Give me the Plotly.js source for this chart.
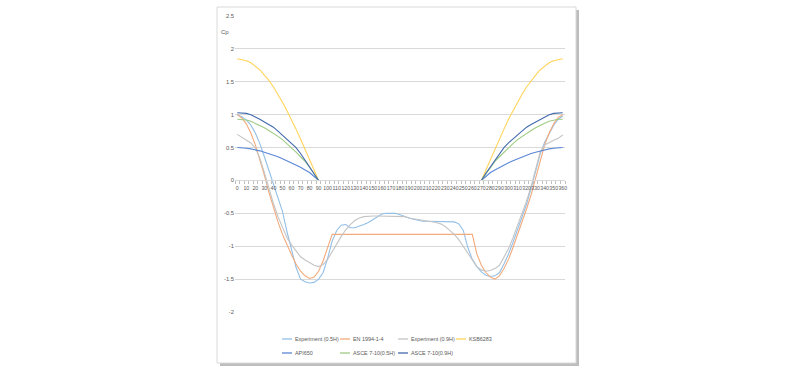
<!DOCTYPE html>
<html>
<head>
<meta charset="utf-8">
<script src="https://cdn.plot.ly/plotly-3.0.1.min.js"></script>
<style>
  html, body { margin: 0; padding: 0; background: #ffffff; }
  #chart { width: 800px; height: 374px; }
</style>
</head>
<body>
<div id="chart"></div>
<script>
// ---- Data (angle in degrees, Cp values) ----
const angles = [0,5,10,15,20,25,30,35,40,45,50,55,60,65,70,75,80,85,90,
  95,100,105,110,115,120,125,130,135,140,145,150,155,160,165,170,175,180,
  185,190,195,200,205,210,215,220,225,230,235,240,245,250,255,260,265,270,
  275,280,285,290,295,300,305,310,315,320,325,330,335,340,345,350,355,360];

const xTickVals = [0,10,20,30,40,50,60,70,80,90,100,110,120,130,140,150,160,170,180,
  190,200,210,220,230,240,250,260,270,280,290,300,310,320,330,340,350,360];
const xTickText = ["0","10","20","30","40","50","60","70","80","90","100","110","120","130",
  "140","150","160","170","180","190","200","210","220","230","240","250","260","270",
  "280","290","300","310","320","330","340","350","360"];

const yTickVals = [-2,-1.5,-1,-0.5,0,0.5,1,1.5,2,2.5];
const yTickText = ["-2","-1.5","-1","-0.5","0","0.5","1","1.5","2","2.5"];

const expHalf = [1.00,0.97,0.92,0.84,0.72,0.56,0.36,0.16,-0.04,-0.24,-0.47,-0.78,-1.05,-1.32,-1.50,-1.54,-1.56,-1.55,-1.50,
  -1.40,-1.18,-0.92,-0.76,-0.68,-0.67,-0.72,-0.72,-0.70,-0.67,-0.64,-0.60,-0.55,-0.51,-0.50,-0.50,-0.50,-0.52,
  -0.55,-0.57,-0.59,-0.61,-0.62,-0.62,-0.62,-0.63,-0.63,-0.63,-0.63,-0.63,-0.66,-0.76,-1.02,-1.20,-1.31,-1.39,
  -1.44,-1.46,-1.45,-1.40,-1.27,-1.12,-0.94,-0.75,-0.56,-0.36,-0.12,0.13,0.40,0.58,0.72,0.84,0.93,0.98];

const en1994 = [1.00,0.95,0.86,0.72,0.54,0.32,0.08,-0.18,-0.42,-0.63,-0.82,-0.98,-1.13,-1.27,-1.38,-1.45,-1.49,-1.47,-1.38,
  -1.22,-1.02,-0.82,-0.82,-0.82,-0.82,-0.82,-0.82,-0.82,-0.82,-0.82,-0.82,-0.82,-0.82,-0.82,-0.82,-0.82,-0.82,
  -0.82,-0.82,-0.82,-0.82,-0.82,-0.82,-0.82,-0.82,-0.82,-0.82,-0.82,-0.82,-0.82,-0.82,-0.82,-0.82,-1.12,-1.29,
  -1.40,-1.47,-1.50,-1.45,-1.34,-1.20,-1.02,-0.83,-0.63,-0.43,-0.22,0.03,0.30,0.54,0.72,0.86,0.96,1.00];

const expNine = [0.70,0.66,0.62,0.57,0.49,0.34,0.12,-0.12,-0.35,-0.55,-0.72,-0.87,-0.98,-1.08,-1.16,-1.21,-1.25,-1.29,-1.31,
  -1.28,-1.20,-1.08,-0.96,-0.85,-0.75,-0.67,-0.61,-0.57,-0.55,-0.54,-0.54,-0.54,-0.54,-0.54,-0.54,-0.54,-0.54,
  -0.55,-0.57,-0.58,-0.60,-0.61,-0.62,-0.63,-0.64,-0.66,-0.70,-0.76,-0.82,-0.90,-1.00,-1.10,-1.22,-1.31,-1.36,
  -1.38,-1.37,-1.34,-1.29,-1.16,-1.04,-0.87,-0.69,-0.51,-0.31,-0.09,0.16,0.43,0.54,0.58,0.61,0.64,0.69];

const ksb6283 = [1.85,1.84,1.82,1.79,1.74,1.68,1.60,1.52,1.42,1.31,1.19,1.06,0.93,0.78,0.63,0.48,0.32,0.16,0,
  0,0,0,0,0,0,0,0,0,0,0,0,0,0,0,0,0,0,
  0,0,0,0,0,0,0,0,0,0,0,0,0,0,0,0,0,0,
  0.16,0.32,0.48,0.63,0.78,0.93,1.06,1.19,1.31,1.42,1.52,1.60,1.68,1.74,1.79,1.82,1.84,1.85];

const api650 = [0.50,0.50,0.49,0.48,0.47,0.45,0.43,0.41,0.39,0.36,0.33,0.30,0.27,0.24,0.20,0.16,0.12,0.06,0,
  0,0,0,0,0,0,0,0,0,0,0,0,0,0,0,0,0,0,
  0,0,0,0,0,0,0,0,0,0,0,0,0,0,0,0,0,0,
  0.06,0.12,0.16,0.20,0.24,0.27,0.30,0.33,0.36,0.39,0.41,0.43,0.45,0.47,0.48,0.49,0.50,0.50];

const asceHalf = [0.93,0.93,0.92,0.90,0.87,0.84,0.80,0.76,0.72,0.67,0.62,0.56,0.50,0.43,0.36,0.29,0.20,0.10,0,
  0,0,0,0,0,0,0,0,0,0,0,0,0,0,0,0,0,0,
  0,0,0,0,0,0,0,0,0,0,0,0,0,0,0,0,0,0,
  0.10,0.20,0.29,0.36,0.43,0.50,0.56,0.62,0.67,0.72,0.76,0.80,0.84,0.87,0.90,0.92,0.93,0.93];

const asceNine = [1.03,1.03,1.02,1.00,0.97,0.93,0.89,0.85,0.81,0.75,0.69,0.63,0.57,0.50,0.41,0.31,0.21,0.11,0,
  0,0,0,0,0,0,0,0,0,0,0,0,0,0,0,0,0,0,
  0,0,0,0,0,0,0,0,0,0,0,0,0,0,0,0,0,0,
  0.11,0.21,0.31,0.41,0.50,0.57,0.63,0.69,0.75,0.81,0.85,0.89,0.93,0.97,1.00,1.02,1.03,1.03];

const seriesNames = ["Experiment (0.5H)","EN 1994-1-4","Experiment (0.9H)","KSB6283",
  "API650","ASCE 7-10(0.5H)","ASCE 7-10(0.9H)"];
const seriesValues = [expHalf, en1994, expNine, ksb6283, api650, asceHalf, asceNine];
const seriesColors = ["#93BFE6","#F3AA7C","#C4C4C4","#FFD45A","#5B87D6","#9FCB84","#4169AC"];

// ---- Build traces ----
const traces = seriesNames.map((name, i) => ({
  type: "scatter",
  mode: "lines",
  name: name,
  x: angles,
  y: seriesValues[i],
  line: { color: seriesColors[i], width: 1.1 },
  showlegend: false,
  hoverinfo: "x+y+name"
}));

// ---- Layout helpers (pixel -> paper) ----
const W = 800, H = 374;
const M = { l: 235, r: 235, t: 16, b: 62 };
const PW = W - M.l - M.r, PH = H - M.t - M.b;
const px = v => (v - M.l) / PW;
const py = v => (H - M.b - v) / PH;

const FONT = "'Liberation Sans', Arial, sans-serif";
const TXT = "#595959";

// chart box with shadow
const shapes = [
  { type: "rect", xref: "paper", yref: "paper", layer: "below",
    x0: px(220), x1: px(579), y0: py(366), y1: py(10),
    fillcolor: "#BDBDBD", line: { width: 0 } },
  { type: "rect", xref: "paper", yref: "paper", layer: "below",
    x0: px(217), x1: px(576), y0: py(363), y1: py(7),
    fillcolor: "#FFFFFF", line: { color: "#D9D9D9", width: 1 } }
];

const annotations = [
  { xref: "paper", yref: "paper", x: px(219), y: py(32), xanchor: "left", yanchor: "middle",
    text: "Cp", showarrow: false, font: { family: FONT, size: 6, color: TXT } }
];

// custom legend (short sample lines, two rows aligned in columns)
const legendCols = [282, 340, 398, 456];
const legendRows = [339, 353];
seriesNames.forEach((name, i) => {
  const col = i < 4 ? i : i - 4;
  const row = i < 4 ? 0 : 1;
  const x0 = legendCols[col];
  const y = legendRows[row];
  shapes.push({ type: "line", xref: "paper", yref: "paper",
    x0: px(x0), x1: px(x0 + 10), y0: py(y), y1: py(y),
    line: { color: seriesColors[i], width: 1.3 } });
  annotations.push({ xref: "paper", yref: "paper", x: px(x0 + 11), y: py(y),
    xanchor: "left", yanchor: "middle", text: name, showarrow: false,
    font: { family: FONT, size: 5.4, color: TXT } });
});

const layout = {
  width: W, height: H,
  margin: M,
  paper_bgcolor: "#FFFFFF",
  plot_bgcolor: "rgba(0,0,0,0)",
  showlegend: false,
  xaxis: {
    type: "linear",
    range: [-2.5, 362.5],
    anchor: "free",
    position: 2 / 4.5,
    tickmode: "array",
    tickvals: xTickVals,
    ticktext: xTickText,
    ticks: "",
    ticklabelstandoff: 2,
    showgrid: false,
    zeroline: false,
    showline: true,
    linecolor: "#D9D9D9",
    linewidth: 1,
    tickfont: { family: FONT, size: 5.2, color: TXT },
    tickangle: 0,
    minor: { tickmode: "linear", tick0: 2.5, dtick: 5, ticks: "outside", ticklen: 3,
      tickcolor: "#BFBFBF", tickwidth: 1, showgrid: false }
  },
  yaxis: {
    range: [-2, 2.5],
    tickmode: "array",
    tickvals: yTickVals,
    ticktext: yTickText,
    ticks: "",
    showgrid: true,
    gridcolor: "#D9D9D9",
    gridwidth: 1,
    zeroline: false,
    showline: false,
    tickfont: { family: FONT, size: 5.8, color: TXT }
  },
  shapes: shapes,
  annotations: annotations
};

Plotly.newPlot("chart", traces, layout, { staticPlot: true, displayModeBar: false });
</script>
</body>
</html>
